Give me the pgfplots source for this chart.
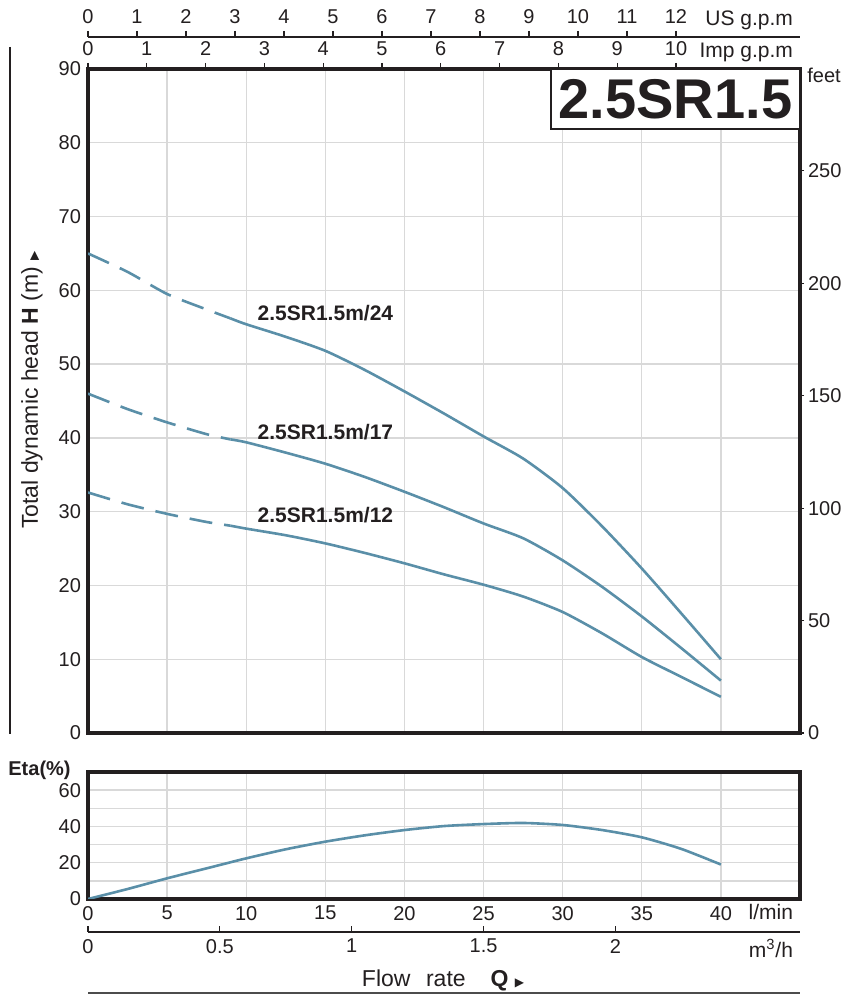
\documentclass[border=0pt]{standalone}
\usepackage{fontspec}
\setmainfont{Liberation Sans}
\newfontfamily\symfont{DejaVu Sans}
\usepackage{pgfplots}
\pgfplotsset{compat=1.18}

\definecolor{curve}{HTML}{5A8FA8}
\definecolor{gridc}{HTML}{D9D9D9}
\definecolor{ink}{HTML}{231F20}

\pgfplotsset{
  pumpbase/.style={
    scale only axis, width=356pt, anchor=south west,
    xmin=0, xmax=45,
    /pgf/number format/assume math mode=true,
    tick label style={font=\fontsize{10}{12}\selectfont, text=ink},
    tick style={ink, line width=0.6pt},
  },
  framed/.style={
    axis line style={ink, line width=1.6pt},
    grid style={gridc, line width=0.7pt},
    minor grid style={gridc, line width=0.7pt},
    major tick length=0pt, minor tick length=0pt,
  },
  scaleline/.style={
    ymin=0, ymax=1, height=10pt, axis y line=none,
    major tick length=3pt,
    axis line style={ink, line width=0.6pt},
  },
}
\tikzset{
  pump/.style={curve, line width=1.3pt, smooth, tension=0.4},
  clabel/.style={anchor=west, inner sep=0pt, text=ink,
    font=\fontsize{10.5}{12}\selectfont\bfseries},
}

\begin{document}
\begin{tikzpicture}
\useasboundingbox (0,0) rectangle (421.5pt,497pt);

% head curves
\begin{axis}[pumpbase, framed, at={(44pt,130.5pt)}, height=332pt,
  ymin=0, ymax=90, ytick={0,10,...,90},
  xtick={0,5,...,40}, xticklabels={}, grid=major]
  \addplot[pump, dash pattern=on 11.5pt off 6pt] coordinates {
    (0,65.0) (2.5,62.5) (5,59.5) (7.5,57.4) (9,56.2)};
  \addplot[pump] coordinates {
    (9,56.2) (10,55.4) (12.5,53.7) (15,51.8) (17.5,49.2) (20,46.3)
    (22.5,43.3) (25,40.2) (27.5,37.2) (30,33.2) (32.5,28.0) (35,22.3)
    (37.5,16.2) (40,10.0)};
  \addplot[pump, dash pattern=on 11.5pt off 6pt] coordinates {
    (0,46.0) (2.5,43.9) (5,42.1) (7.5,40.5) (9,39.8)};
  \addplot[pump] coordinates {
    (9,39.8) (10,39.4) (12.5,38.0) (15,36.5) (17.5,34.7) (20,32.7)
    (22.5,30.6) (25,28.4) (27.5,26.4) (30,23.4) (32.5,19.8) (35,15.8)
    (37.5,11.5) (40,7.1)};
  \addplot[pump, dash pattern=on 11.5pt off 6pt] coordinates {
    (0,32.6) (2.5,31.0) (5,29.7) (7.5,28.6) (9,28.1)};
  \addplot[pump] coordinates {
    (9,28.1) (10,27.7) (12.5,26.8) (15,25.7) (17.5,24.4) (20,23.0)
    (22.5,21.5) (25,20.1) (27.5,18.5) (30,16.4) (32.5,13.5) (35,10.3)
    (37.5,7.6) (40,4.9)};
  \node[clabel] at (axis cs:10.7,56.9) {2.5SR1.5m/24};
  \node[clabel] at (axis cs:10.7,40.8) {2.5SR1.5m/17};
  \node[clabel] at (axis cs:10.7,29.5) {2.5SR1.5m/12};
\end{axis}

% feet on the right
\begin{axis}[pumpbase, at={(44pt,130.5pt)}, height=332pt,
  ymin=0, ymax=295.276, ytick={0,50,...,250},
  axis x line=none, axis y line*=right,
  tick align=outside, major tick length=2pt,
  yticklabel style={xshift=-1.5pt},
  axis line style={ink, line width=1.6pt}]
\end{axis}

% Imp g.p.m on the top frame
\begin{axis}[pumpbase, at={(44pt,130.5pt)}, height=332pt,
  xmin=0, xmax=12.109, ymin=0, ymax=1, xtick={0,...,10},
  axis x line*=top, axis y line=none,
  tick align=outside, major tick length=3pt,
  axis line style={ink, line width=1.6pt}]
\end{axis}

% US g.p.m
\begin{axis}[pumpbase, scaleline, at={(44pt,468.5pt)},
  xmin=0, xmax=14.531, xtick={0,...,12}, axis x line*=top,
  tick align=outside]
\end{axis}

% efficiency
\begin{axis}[pumpbase, framed, at={(44pt,47.5pt)}, height=63.5pt,
  ymin=0, ymax=70, ytick={0,20,40,60}, minor ytick={10,30,50},
  xtick={0,5,...,40}, grid=both]
  \addplot[pump] coordinates {
    (0,0) (2.5,5.5) (5,11.4) (7.5,16.9) (10,22.4) (12.5,27.4) (15,31.6)
    (17.5,35.1) (20,38.0) (22.5,40.2) (25,41.3) (27.5,41.9) (30,40.8)
    (32.5,38.0) (35,34.0) (37.5,27.6) (40,19.0)};
\end{axis}

% m3/h
\begin{axis}[pumpbase, scaleline, at={(44pt,31pt)},
  xmin=0, xmax=2.7, xtick={0,0.5,1,1.5,2}, axis x line*=bottom,
  tick align=inside]
\end{axis}

% texts and frames
\draw[ink, line width=1pt, fill=white] (275.5pt,432.5pt) rectangle (400pt,462.5pt);
\node[text=ink, font=\fontsize{28}{30}\selectfont\bfseries] at (337.75pt,447.3pt) {2.5SR1.5};
\node[anchor=east, text=ink, font=\fontsize{10.5}{12}\selectfont] at (400pt,487pt) {US g.p.m};
\node[anchor=east, text=ink, font=\fontsize{10.5}{12}\selectfont] at (400pt,471pt) {Imp g.p.m};
\node[text=ink, font=\fontsize{10}{12}\selectfont] at (412pt,459.5pt) {feet};
\node[anchor=east, text=ink, font=\fontsize{10.5}{12}\selectfont] at (400pt,41pt) {l/min};
\node[anchor=east, text=ink, font=\fontsize{10.5}{12}\selectfont] at (400pt,23pt) {m\textsuperscript{3}/h};
\node[text=ink, font=\fontsize{10}{12}\selectfont\bfseries] at (19.75pt,112pt) {Eta(\%)};
\node[rotate=90, text=ink, font=\fontsize{11.5}{13}\selectfont] at (16pt,302pt)
  {Total dynamic head \textbf{H} (m) {\symfont\fontsize{6}{7}\selectfont ▶}};
\node[text=ink, font=\fontsize{11.5}{13}\selectfont] at (221.5pt,7pt)
  {Flow\hspace{0.4em} rate\hspace{0.8em} \textbf{Q} {\symfont\fontsize{6}{7}\selectfont ▶}};
\draw[ink, line width=0.6pt] (5pt,473.5pt) -- (5pt,130pt);
\draw[black!70, line width=1.2pt] (44pt,0.6pt) -- (400pt,0.6pt);
\end{tikzpicture}
\end{document}
